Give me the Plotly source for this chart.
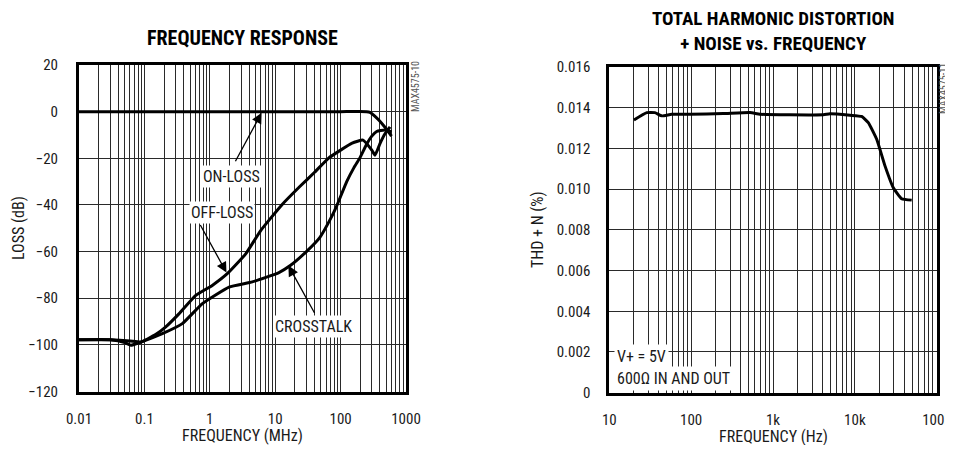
import math
import plotly.graph_objects as go

# ---------------- data: left chart (FREQUENCY RESPONSE) ----------------
on_loss_f = [0.01, 0.1, 1, 10, 100, 250, 281, 320, 380, 450, 520, 600]
on_loss_db = [0, 0, 0, 0, 0, 0, -0.3, -1.5, -3.5, -5.8, -8.0, -10.5]

off_loss_f = [0.01, 0.03, 0.06, 0.088, 0.15, 0.21, 0.34, 0.61, 1.09, 1.85, 3.54, 6.0,
              12.6, 24, 40, 65, 100, 150, 220, 300, 336, 400, 480, 570]
off_loss_db = [-97.8, -97.8, -98.3, -98.8, -95.5, -92.4, -86.6, -78.8, -74.5, -69.5, -61, -51,
               -40, -32, -26, -20, -16.5, -13.5, -12.2, -16.5, -18.7, -13.7, -9.4, -6.5]

xtalk_f = [0.01, 0.03, 0.05, 0.062, 0.088, 0.188, 0.38, 0.77, 1.97, 4.47, 11.4, 17, 30,
           48, 70, 87, 124, 160, 200, 250, 300, 356, 477, 604]
xtalk_db = [-97.8, -97.8, -99.0, -100.2, -98.8, -95.2, -90.9, -82.3, -75.2, -73, -69, -66, -60,
            -54, -46, -40.5, -30, -24, -19.5, -14, -10.5, -8.5, -7.9, -8.7]

left_xtick_vals = [0.01, 0.1, 1, 10, 100, 1000]
left_xtick_text = ["0.01", "0.1", "1", "10", "100", "1000"]
left_ytick_vals = [20, 0, -20, -40, -60, -80, -100, -120]

# ---------------- data: right chart (THD+N) ----------------
thd_f = [20, 28.7, 36, 43.7, 57.8, 97, 247, 524, 693, 1610, 4120, 4970, 8720, 12100,
         14600, 18500, 23400, 29500, 37300, 49500]
thd_pct = [0.0134, 0.01376, 0.01376, 0.0136, 0.01368, 0.01368, 0.01371, 0.01376, 0.01368,
           0.01365, 0.01365, 0.0137, 0.01363, 0.01357, 0.01327, 0.01245, 0.01113, 0.01007,
           0.00953, 0.00946]

right_xtick_vals = [10, 100, 1000, 10000, 100000]
right_xtick_text = ["10", "100", "1k", "10k", "100k"]
right_ytick_vals = [0, 0.002, 0.004, 0.006, 0.008, 0.010, 0.012, 0.014, 0.016]
right_ytick_text = ["0", "0.002", "0.004", "0.006", "0.008", "0.010", "0.012", "0.014", "0.016"]

# ---------------- styling ----------------
OFF = 8                          # page body margin
W, H = 953 - OFF, 453 - 2 * OFF  # figure size that fits the window without scrolling
FONT = "Liberation Sans Narrow, Arial Narrow, Roboto Condensed, Liberation Sans, Arial, sans-serif"
TXT = "#1a1a1a"
GRID = "#2a2a2a"


def px(x):
    return (x - OFF) / W


def py(y):
    return 1 - (y - OFF) / H


fig = go.Figure()
line_style = dict(color="black", width=3, shape="spline", smoothing=0.4)
fig.add_trace(go.Scatter(x=on_loss_f, y=on_loss_db, mode="lines", line=line_style,
                         xaxis="x", yaxis="y", name="ON-LOSS"))
fig.add_trace(go.Scatter(x=off_loss_f, y=off_loss_db, mode="lines", line=line_style,
                         xaxis="x", yaxis="y", name="OFF-LOSS"))
fig.add_trace(go.Scatter(x=xtalk_f, y=xtalk_db, mode="lines", line=line_style,
                         xaxis="x", yaxis="y", name="CROSSTALK"))
fig.add_trace(go.Scatter(x=thd_f, y=thd_pct, mode="lines", line=line_style,
                         xaxis="x2", yaxis="y2", name="THD+N"))

axis_common = dict(
    showline=True, mirror=True, linewidth=3, linecolor="black",
    showgrid=True, gridcolor=GRID, gridwidth=1, zeroline=False, automargin=False,
    ticks="", tickfont=dict(family=FONT, size=15, color=TXT), ticklabeloverflow="allow",
)

xlog = dict(axis_common, type="log",
            minor=dict(dtick="D1", showgrid=True, gridcolor=GRID, gridwidth=1, ticks=""))

fig.update_layout(
    width=W, height=H, margin=dict(l=0, r=0, t=0, b=0, autoexpand=False),
    paper_bgcolor="white", plot_bgcolor="white", showlegend=False,
    xaxis=dict(xlog, domain=[px(79), px(406)], range=[-2, 3], anchor="y",
               tickvals=left_xtick_vals, ticktext=left_xtick_text, ticklabelstandoff=11),
    yaxis=dict(axis_common, domain=[py(391.5), py(65)], range=[-120, 20], anchor="x",
               tickvals=left_ytick_vals, ticklabelstandoff=15),
    xaxis2=dict(xlog, domain=[px(609.3), px(936.7)], range=[1, 5], anchor="y2",
                tickvals=right_xtick_vals, ticktext=right_xtick_text, ticklabelstandoff=11),
    yaxis2=dict(axis_common, domain=[py(392.7), py(67)], range=[0, 0.016], anchor="x2",
                tickvals=right_ytick_vals, ticktext=right_ytick_text, ticklabelstandoff=13),
)

C = dict(xanchor="center", yanchor="middle", showarrow=False)
ann = []
# titles
ann.append(dict(C, text="<b>FREQUENCY RESPONSE</b>", x=px(242.5), y=py(38), xref="paper", yref="paper",
                font=dict(family=FONT, size=20, color="black")))
ann.append(dict(C, text="<b>TOTAL HARMONIC DISTORTION<br>+ NOISE vs. FREQUENCY</b>", x=px(773), y=py(31),
                xref="paper", yref="paper", font=dict(family=FONT, size=19, color="black")))
# axis titles
ann.append(dict(C, text="FREQUENCY (MHz)", x=px(242.5), y=py(435), xref="paper", yref="paper",
                font=dict(family=FONT, size=16, color=TXT)))
ann.append(dict(C, text="FREQUENCY (Hz)", x=px(773), y=py(436), xref="paper", yref="paper",
                font=dict(family=FONT, size=16, color=TXT)))
ann.append(dict(C, text="LOSS (dB)", x=px(18), y=py(228), xref="paper", yref="paper", textangle=-90,
                font=dict(family=FONT, size=16, color=TXT)))
ann.append(dict(C, text="THD + N (%)", x=px(537), y=py(230), xref="paper", yref="paper", textangle=-90,
                font=dict(family=FONT, size=16, color=TXT)))
# part codes
ann.append(dict(C, text="MAX4575-10", x=px(416), y=py(87), xref="paper", yref="paper", textangle=-90,
                font=dict(family=FONT, size=10, color="#555")))
ann.append(dict(C, text="MAX4575-11", x=px(944), y=py(89), xref="paper", yref="paper", textangle=-90,
                font=dict(family=FONT, size=10, color="#555")))

# curve labels (left)
lbl_font = dict(family=FONT, size=16, color=TXT)
ann.append(dict(C, text="ON-LOSS", x=math.log10(2.15), y=-27.7, xref="x", yref="y",
                bgcolor="white", font=lbl_font, borderpad=1))
ann.append(dict(C, text="OFF-LOSS", x=math.log10(1.56), y=-43.1, xref="x", yref="y",
                bgcolor="white", font=lbl_font, borderpad=1))
ann.append(dict(C, text="CROSSTALK", x=math.log10(37.9), y=-92, xref="x", yref="y",
                bgcolor="white", font=lbl_font, borderpad=1))
# arrows
arrow = dict(text="", showarrow=True, arrowhead=2, arrowsize=1.6, arrowwidth=1.3, arrowcolor="black",
             xref="x", yref="y")
ann.append(dict(arrow, x=math.log10(6.2), y=-0.5, ax=-27, ay=50))
ann.append(dict(arrow, x=math.log10(1.8), y=-69, ax=-27, ay=-49))
ann.append(dict(arrow, x=math.log10(15.9), y=-66, ax=27, ay=49))

# right chart notes
ann.append(dict(text="V+ = 5V", x=math.log10(11.5), y=0.00176, xref="x2", yref="y2", xanchor="left",
                yanchor="middle", showarrow=False, bgcolor="white", font=lbl_font, borderpad=2))
ann.append(dict(text="600Ω IN AND OUT", x=math.log10(11.5), y=0.00068, xref="x2", yref="y2",
                xanchor="left", yanchor="middle", showarrow=False, bgcolor="white", font=lbl_font,
                borderpad=2))

fig.update_layout(annotations=ann)
fig.write_html("out.html")
